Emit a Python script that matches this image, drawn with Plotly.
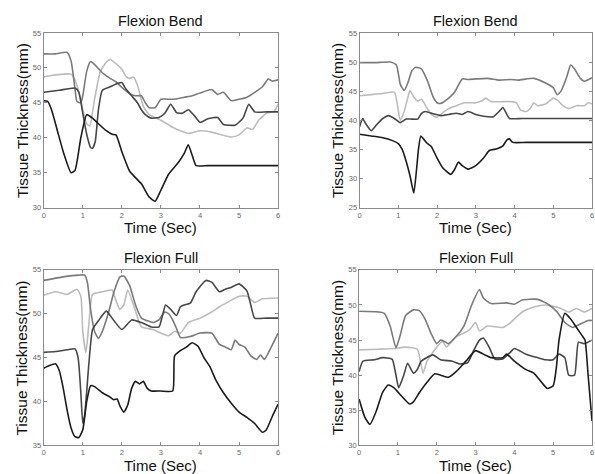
import plotly.graph_objects as go

# ---------------- DATA ----------------
# Panel 1: Flexion Bend (left)
p1_black_t = [0, 0.1, 0.2, 0.35, 0.5, 0.7, 0.8, 0.95, 1.1, 1.25, 1.4, 1.6, 1.75, 1.85, 2.0, 2.2, 2.5, 2.7, 2.85, 3.0, 3.2, 3.45, 3.6, 3.7, 3.8, 3.9, 4.2, 5, 6]
p1_black_v = [45.3, 45.2, 44, 41, 38, 35, 35.3, 40, 43.3, 42.8, 42, 41, 40.5, 40.4, 38, 35.2, 33.4, 31.5, 30.9, 32.5, 34.8, 36.5, 37.8, 39, 37.5, 36, 36, 36, 36]
p1_dark_t = [0, 0.4, 0.8, 0.9, 1.0, 1.1, 1.2, 1.25, 1.32, 1.4, 1.5, 1.7, 1.9, 2.0, 2.1, 2.25, 2.4, 2.5, 2.6, 2.75, 2.95, 3.1, 3.25, 3.4, 3.55, 3.7, 3.85, 4.0, 4.2, 4.45, 4.6, 4.9, 5.1, 5.25, 5.4, 5.7, 6]
p1_dark_v = [46.5, 46.8, 47.1, 46.5, 43.5, 40.5, 38.6, 38.5, 39.5, 44, 46.8, 47.3, 47.8, 47.9, 47, 46, 45, 44, 43.3, 42.8, 42.9, 43.5, 44.8, 43.6, 43.5, 44, 43.2, 42.2, 42.7, 42.9, 41.9, 41.8, 42.8, 44.8, 43.7, 43.7, 43.7]
p1_mid_t = [0, 0.3, 0.6, 0.7, 0.8, 0.85, 0.95, 1.0, 1.1, 1.2, 1.3, 1.5, 1.7, 1.85, 2.0, 2.2, 2.35, 2.5, 2.6, 2.7, 2.85, 3.0, 3.3, 3.6, 3.8, 4.0, 4.3, 4.45, 4.6, 4.8, 5.0, 5.2, 5.4, 5.6, 5.75, 5.85, 6]
p1_mid_v = [52, 52, 52.2, 51, 47, 45.2, 45, 46, 49.5, 50.9, 50.5, 49.3, 48.5, 48, 47.2, 46.3, 46, 46, 45, 44.3, 44.3, 45.5, 45.5, 45.8, 46, 46.4, 46.9, 46.2, 46.5, 45.3, 45.5, 45.8, 46.5, 47.3, 48.4, 48.1, 48.3]
p1_light_t = [0, 0.2, 0.5, 0.7, 0.8, 0.9, 1.0, 1.1, 1.18, 1.3, 1.45, 1.6, 1.7, 1.85, 2.0, 2.1, 2.2, 2.3, 2.4, 2.55, 2.7, 3.0, 3.3, 3.5, 3.7, 4.0, 4.3, 4.5, 4.8, 5.0, 5.2, 5.35, 5.5, 5.7, 5.9, 6]
p1_light_v = [48.7, 48.9, 49.1, 49.1, 48.3, 46.5, 44, 42, 41.7, 45.5, 49.5, 50.8, 51.2, 50.6, 49.8, 48.8, 48.5, 48.7, 47.5, 44.5, 43.3, 42.5, 41.5, 41, 40.6, 41, 40.8, 40.5, 40.1, 40.4, 41.4, 41.2, 42.5, 43.5, 43.8, 44.8]

# Panel 2: Flexion Bend (right)
p2_mid_t = [0, 0.4, 0.8, 0.95, 1.05, 1.15, 1.25, 1.35, 1.45, 1.6, 1.75, 1.9, 2.0, 2.1, 2.3, 2.45, 2.65, 2.8, 3.0, 3.3, 3.6, 3.9, 4.1, 4.5, 4.8, 5.0, 5.1, 5.2, 5.35, 5.45, 5.55, 5.7, 5.8, 6]
p2_mid_v = [49.9, 49.9, 50, 49.5, 46.2, 45.1, 46.5, 48.5, 49.1, 48.8, 46.8, 44, 43, 42.9, 43.8, 44.8, 47.1, 47, 47.1, 47.2, 46.9, 47, 46.9, 47.2, 46.4, 45.6, 44.4, 45, 47.5, 49.5, 48.8, 47.2, 46.7, 47.3]
p2_light_t = [0, 0.3, 0.6, 0.9, 0.98, 1.05, 1.15, 1.25, 1.3, 1.4, 1.5, 1.6, 1.75, 1.85, 2.0, 2.15, 2.3, 2.5, 2.7, 3.0, 3.15, 3.25, 3.4, 3.7, 3.9, 4.05, 4.15, 4.3, 4.4, 4.5, 4.6, 4.8, 5.0, 5.1, 5.25, 5.4, 5.6, 5.8, 5.9, 6]
p2_light_v = [44.2, 44.4, 44.6, 44.8, 42.5, 40, 41.5, 44, 45.1, 44, 43.3, 43.6, 42, 41, 40.5, 41.3, 42, 42.5, 43, 43, 43.3, 43.8, 43.2, 43.2, 43.2, 43, 41.8, 41.5, 42, 43, 42.5, 42.8, 43.8, 43.5, 42.5, 42, 42.5, 42.5, 43, 42.8]
p2_dark_t = [0, 0.08, 0.15, 0.3, 0.45, 0.6, 0.75, 0.9, 1.05, 1.2, 1.35, 1.5, 1.6, 1.7, 1.9, 2.1, 2.3, 2.5, 2.65, 2.8, 3.0, 3.2, 3.45, 3.6, 3.7, 3.8, 3.87, 4.2, 5, 6]
p2_dark_v = [38.9, 40.3, 39.5, 38.2, 39.3, 40.3, 40.8, 40.3, 39.6, 40.2, 40.2, 40.2, 41.2, 41.5, 41.1, 40.8, 41, 41.2, 41, 41.5, 41, 40.7, 40.6, 41.5, 42.2, 41, 40.3, 40.3, 40.3, 40.3]
p2_black_t = [0, 0.3, 0.6, 0.85, 1.0, 1.1, 1.2, 1.3, 1.4, 1.47, 1.52, 1.58, 1.65, 1.75, 1.85, 2.0, 2.15, 2.35, 2.45, 2.55, 2.65, 2.8, 3.0, 3.2, 3.35, 3.55, 3.7, 3.8, 3.87, 3.95, 4.3, 5, 6]
p2_black_v = [37.6, 37.3, 37, 36.5, 36, 35, 33, 30.5, 27.5, 31.5, 35, 37.3, 36.8, 36, 35.5, 33.5, 31.8, 30.7, 31.5, 32.8, 32.2, 31.6, 32.2, 33.5, 34.8, 35.1, 35.6, 36.6, 36.8, 36.2, 36.2, 36.2, 36.2]

# Panel 3: Flexion Full (left)
p3_mid_t = [0, 0.5, 0.9, 1.05, 1.12, 1.2, 1.3, 1.4, 1.5, 1.65, 1.8, 1.95, 2.05, 2.2, 2.35, 2.5, 2.65, 2.8, 2.95, 3.1, 3.2, 3.3, 3.4, 3.5, 3.75, 4.0, 4.3, 4.5, 4.65, 4.8, 4.9, 5.0, 5.15, 5.3, 5.45, 5.55, 5.65, 5.8, 6]
p3_mid_v = [53.8, 54.2, 54.4, 54.4, 53.5, 50.5, 48, 47.2, 48, 50, 52.5, 54.2, 54.3, 53.2, 51, 49.5, 49.2, 49, 49.3, 50.2, 50, 49.3, 48.3, 47.3, 47.4, 47.8, 47.8, 46.5, 46.2, 45.9, 47, 46.5, 46.2, 45.2, 44.8, 45.3, 44.8, 46, 47.8]
p3_dark_t = [0, 0.3, 0.6, 0.8, 0.88, 0.95, 1.0, 1.05, 1.15, 1.25, 1.4, 1.6, 1.8, 2.0, 2.25, 2.5, 2.75, 2.95, 3.05, 3.12, 3.25, 3.4, 3.5, 3.6, 3.75, 3.9, 4.15, 4.3, 4.5, 4.65, 4.8, 5.0, 5.2, 5.3, 5.4, 5.7, 6]
p3_dark_v = [45.6, 45.7, 45.9, 46, 45, 41, 37.5, 38.5, 44, 48.2, 49.2, 50.3, 49.2, 48.2, 49.3, 49, 48.5, 48.5, 50, 51, 50.5, 49.8, 50.8, 51, 51.2, 52.5, 53.8, 53.6, 52.5, 52.8, 53, 53.4, 52.6, 51, 49.5, 49.5, 49.5]
p3_black_t = [0, 0.15, 0.3, 0.4, 0.5, 0.6, 0.7, 0.8, 0.9, 1.0, 1.1, 1.2, 1.3, 1.5, 1.7, 1.8, 1.88, 1.95, 2.05, 2.15, 2.25, 2.35, 2.45, 2.55, 2.65, 2.75, 3.0, 3.3, 3.35, 3.5, 3.65, 3.8, 3.95, 4.1, 4.25, 4.4, 4.6, 4.8, 5.0, 5.2, 5.4, 5.6, 5.7, 5.85, 6]
p3_black_v = [43.8, 44.1, 44.3, 43.5, 41.5, 39, 37, 36, 35.9, 36.8, 40, 41.8, 41.7, 41, 40.5, 40.2, 40.3, 39.5, 38.8, 39.6, 41.5, 42.3, 42, 42.3, 41.5, 41.2, 41.2, 41.2, 45.2, 45.8, 46.2, 46.7, 46.3, 45, 44, 42.5, 41, 39.8, 38.8, 38.2, 37.5, 36.5, 36.8, 38.3, 39.7]
p3_light_t = [0, 0.3, 0.6, 0.85, 0.95, 1.0, 1.08, 1.15, 1.25, 1.5, 1.75, 1.85, 1.95, 2.05, 2.15, 2.3, 2.5, 2.8, 3.0, 3.2, 3.35, 3.5, 3.7, 4.0, 4.3, 4.5, 4.7, 5.0, 5.2, 5.4, 5.6, 6]
p3_light_v = [52.1, 52.5, 52.2, 52.8, 52, 48, 45.6, 48.5, 52.2, 52.5, 52.7, 51.5, 50.5, 51, 52.7, 51, 48.5, 48.2, 47.8, 47.5, 48, 47.8, 49, 49.5, 50.2, 50.8, 51.3, 52, 52, 51.3, 51.7, 51.8]

# Panel 4: Flexion Full (right)
p4_mid_t = [0, 0.5, 0.65, 0.8, 0.95, 1.05, 1.2, 1.4, 1.55, 1.7, 1.85, 2.0, 2.1, 2.2, 2.3, 2.5, 2.7, 2.9, 3.1, 3.2, 3.4, 3.8, 4.0, 4.2, 4.6, 4.9, 5.1, 5.3, 5.5, 5.7, 5.9, 6]
p4_mid_v = [49.1, 49, 48.8, 47, 43.9, 45.5, 48.5, 49.3, 49.2, 48, 46, 44.5, 45, 44.8, 44.5, 45.5, 47, 50, 52.2, 51, 50.2, 50.3, 50.1, 50.7, 50.8, 50, 49, 47.5, 46.8, 47.3, 47.8, 47.8]
p4_light_t = [0, 0.5, 0.9, 1.2, 1.5, 1.58, 1.65, 1.75, 2.0, 2.15, 2.25, 2.5, 2.7, 2.85, 3.0, 3.1, 3.3, 3.7, 3.9, 4.2, 4.5, 4.8, 5.0, 5.2, 5.4, 5.6, 5.8, 6]
p4_light_v = [43.6, 43.7, 43.8, 44, 43.7, 42, 40.3, 42, 44, 44.8, 44, 45.5, 46, 46.5, 47.5, 46.3, 47, 46.8, 47.5, 49, 49.7, 50, 49.8, 49.5, 49, 49.5, 49, 49.5]
p4_dark_t = [0, 0.1, 0.4, 0.6, 0.85, 0.95, 1.02, 1.15, 1.25, 1.4, 1.5, 1.6, 1.9, 2.1, 2.4, 2.6, 2.8, 2.95, 3.1, 3.2, 3.35, 3.5, 3.7, 3.9, 4.0, 4.3, 4.6, 4.8, 5.0, 5.15, 5.3, 5.4, 5.55, 5.65, 5.8, 6]
p4_dark_v = [40.5, 42, 42.2, 42.5, 42.3, 40, 38.2, 40, 41.7, 40.3, 40.8, 42, 42.9, 42.2, 42, 41.6, 41.8, 43.5, 45, 45.3, 44, 42.3, 42.3, 43.3, 43.8, 43, 42.5, 42.2, 42.2, 43, 42.5, 40, 40, 44.7, 44.5, 45]
p4_black_t = [0, 0.15, 0.28, 0.45, 0.6, 0.75, 0.9, 1.1, 1.3, 1.4, 1.55, 1.75, 1.95, 2.1, 2.3, 2.5, 2.75, 3.0, 3.2, 3.4, 3.7, 3.8, 4.0, 4.3, 4.5, 4.7, 4.85, 5.0, 5.08, 5.15, 5.3, 5.45, 5.6, 5.75, 5.82, 5.9, 6]
p4_black_v = [36.6, 34, 33, 35, 37.5, 38.6, 38.2, 37, 35.9, 36.2, 37.5, 39, 40.2, 40, 39.7, 40.5, 42, 43.5, 43, 42.5, 42.5, 43, 42, 40.8, 40.3, 39, 38.1, 38.5, 41, 45, 48.8, 48, 46.8, 45.6, 45, 40, 33.5]

panel_titles = ["Flexion Bend", "Flexion Bend", "Flexion Full", "Flexion Full"]
x_title = "Time (Sec)"
y_title = "Tissue Thickness(mm)"
x_ticks = [0, 1, 2, 3, 4, 5, 6]
y_ranges = [[30, 55], [25, 55], [35, 55], [30, 55]]

# ---------------- STYLE ----------------
W, H = 595, 474
FONT = "Liberation Sans, Arial, sans-serif"
C_BLACK = "#1c1c1c"
C_DARK = "#474747"
C_MID = "#7a7a7a"
C_LIGHT = "#bcbcbc"

# plot-area pixel boxes: (left, right, top, bottom)
boxes = [(42, 278, 29.5, 207.5), (360, 594, 29.5, 207.5),
         (42, 278, 271, 450), (359.5, 594, 271, 450)]

panels = [
    [(p1_light_t, p1_light_v, C_LIGHT), (p1_mid_t, p1_mid_v, C_MID), (p1_dark_t, p1_dark_v, C_DARK), (p1_black_t, p1_black_v, C_BLACK)],
    [(p2_light_t, p2_light_v, C_LIGHT), (p2_mid_t, p2_mid_v, C_MID), (p2_dark_t, p2_dark_v, C_DARK), (p2_black_t, p2_black_v, C_BLACK)],
    [(p3_light_t, p3_light_v, C_LIGHT), (p3_mid_t, p3_mid_v, C_MID), (p3_dark_t, p3_dark_v, C_DARK), (p3_black_t, p3_black_v, C_BLACK)],
    [(p4_light_t, p4_light_v, C_LIGHT), (p4_mid_t, p4_mid_v, C_MID), (p4_dark_t, p4_dark_v, C_DARK), (p4_black_t, p4_black_v, C_BLACK)],
]

fig = go.Figure()
layout = dict(
    width=W, height=H, margin=dict(l=0, r=0, t=0, b=0),
    paper_bgcolor="white", plot_bgcolor="white", showlegend=False,
    font=dict(family=FONT, color="#111"),
)
annotations = []

for i, (box, curves) in enumerate(zip(boxes, panels)):
    n = i + 1
    xa = "x" if n == 1 else f"x{n}"
    ya = "y" if n == 1 else f"y{n}"
    l, r, t, b = box
    xdom = [l / W, r / W]
    ydom = [1 - b / H, 1 - t / H]
    for tt, vv, col in curves:
        fig.add_trace(go.Scatter(x=tt, y=vv, mode="lines", xaxis=xa, yaxis=ya,
                                 line=dict(color=col, width=1.6, shape="spline", smoothing=0.5),
                                 hoverinfo="skip"))
    ylo, yhi = y_ranges[i]
    axis_common = dict(showgrid=False, zeroline=False, showline=True, linecolor="#8a8a8a",
                       linewidth=1, mirror="ticks", ticks="inside", ticklen=3,
                       tickcolor="#8a8a8a", tickfont=dict(size=7.5, color="#666", family=FONT))
    layout[f"xaxis{'' if n == 1 else n}"] = dict(domain=xdom, range=[0, 6], tickvals=x_ticks,
                                                 anchor=ya, **axis_common)
    layout[f"yaxis{'' if n == 1 else n}"] = dict(domain=ydom, range=[ylo, yhi], dtick=5,
                                                 tick0=ylo, anchor=xa, **axis_common)
    cx = (l + r) / 2
    cy = (t + b) / 2
    annotations.append(dict(text=panel_titles[i], x=cx / W, y=1 - (t - 12.5) / H, xref="paper", yref="paper",
                            showarrow=False, xanchor="center", yanchor="middle",
                            font=dict(size=14.5, color="#111", family=FONT)))
    annotations.append(dict(text=x_title, x=cx / W, y=1 - (b + 20.5) / H, xref="paper", yref="paper",
                            showarrow=False, xanchor="center", yanchor="middle",
                            font=dict(size=15, color="#111", family=FONT)))
    annotations.append(dict(text=y_title, x=(l - 22) / W, y=1 - cy / H, xref="paper", yref="paper",
                            showarrow=False, xanchor="center", yanchor="middle", textangle=-90,
                            font=dict(size=15.5, color="#111", family=FONT)))

layout["annotations"] = annotations
fig.update_layout(**layout)
fig.write_html("out.html", config={"displayModeBar": False, "staticPlot": True},
               post_script="document.body.style.margin='0';document.body.style.padding='0';document.body.style.overflow='hidden';")
